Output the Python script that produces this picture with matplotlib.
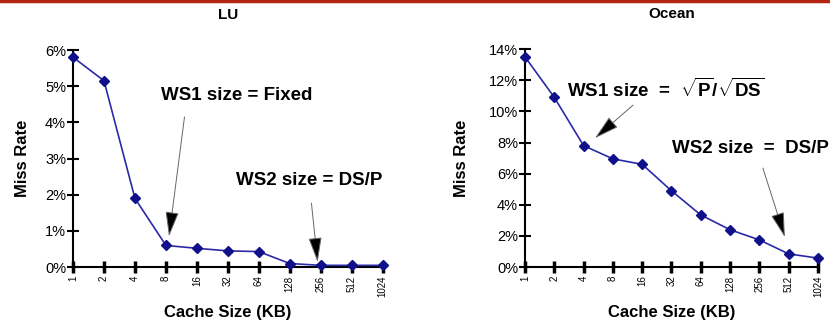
import matplotlib
matplotlib.use('Agg')
import matplotlib.pyplot as plt
from matplotlib.lines import Line2D

# cache sizes in KB
cache_kb = ['1', '2', '4', '8', '16', '32', '64', '128', '256', '512', '1024']

# miss rate (%)
lu_miss = [5.8, 5.15, 1.9, 0.6, 0.52, 0.45, 0.43, 0.1, 0.05, 0.05, 0.05]
ocean_miss = [13.5, 10.9, 7.8, 6.95, 6.6, 4.9, 3.35, 2.4, 1.75, 0.85, 0.58]

lu_ticks = [0, 1, 2, 3, 4, 5, 6]
ocean_ticks = [0, 2, 4, 6, 8, 10, 12, 14]

plt.rcParams['font.family'] = ['Liberation Sans', 'DejaVu Sans']
plt.rcParams['font.weight'] = 'bold'
plt.rcParams['mathtext.fontset'] = 'custom'
plt.rcParams['mathtext.rm'] = 'Liberation Sans:bold'
plt.rcParams['mathtext.bf'] = 'Liberation Sans:bold'

LINE = '#2a2aa8'
MARK = '#10108a'

fig = plt.figure(figsize=(8.3, 3.29), dpi=100)
# red rule across the top
fig.add_artist(Line2D([0, 1], [0.996, 0.996], color='#b52412', lw=2.5,
                      transform=fig.transFigure))

ax1 = fig.add_axes([0.088, 0.188, 0.373, 0.66])
ax2 = fig.add_axes([0.6325, 0.188, 0.353, 0.663])


def style(ax, vals, yt, title, ylpad):
    x = list(range(len(cache_kb)))
    ax.plot(x, vals, color=LINE, lw=1.2, marker='D', ms=5.5,
            mfc=MARK, mec=MARK, clip_on=False, zorder=3)
    ax.set_xlim(0, len(cache_kb) - 1)
    ax.set_ylim(0, yt[-1])
    ax.set_xticks(x)
    ax.set_xticklabels(cache_kb, rotation=90, fontsize=7, fontweight='normal')
    ax.set_yticks(yt)
    ax.set_yticklabels(['%d%%' % v for v in yt], fontsize=10.5, fontweight='normal')
    for s in ['top', 'right']:
        ax.spines[s].set_visible(False)
    for s in ['left', 'bottom']:
        ax.spines[s].set_linewidth(1.5)
    ax.tick_params(axis='x', direction='inout', length=8, width=2.5, pad=2)
    ax.tick_params(axis='y', direction='inout', length=8, width=1.5, pad=1)
    ax.set_title(title, fontsize=11, fontweight='bold', pad=22)
    ax.set_xlabel('Cache Size (KB)', fontsize=12, fontweight='bold', labelpad=6)
    ax.set_ylabel('Miss Rate', fontsize=12, fontweight='bold', labelpad=ylpad)


style(ax1, lu_miss, lu_ticks, 'LU', 11)
style(ax2, ocean_miss, ocean_ticks, 'Ocean', 14)

arrow = dict(arrowstyle='-|>,head_length=1.3,head_width=0.35', mutation_scale=12,
             fc='black', ec='#666666', lw=0.7, shrinkA=0, shrinkB=0)

# LU annotations
ax1.text(5.28, 4.75, 'WS1 size = Fixed', ha='center', va='center', fontsize=13.5)
ax1.annotate('', xy=(3.1, 0.85), xytext=(3.6, 4.15), arrowprops=arrow)
ax1.text(7.64, 2.4, 'WS2 size = DS/P', ha='center', va='center', fontsize=13.5)
ax1.annotate('', xy=(7.9, 0.14), xytext=(7.7, 1.77), arrowprops=arrow)

# Ocean annotations
ax2.text(4.8, 11.43, r'WS1 size  =  $\sqrt{\mathrm{P}}/\sqrt{\mathrm{DS}}$',
         ha='center', va='center', fontsize=13.5)
ax2.annotate('', xy=(2.39, 8.28), xytext=(3.69, 10.4), arrowprops=arrow)
ax2.text(7.68, 7.64, 'WS2 size  =  DS/P', ha='center', va='center',
         fontsize=13.5, clip_on=False)
ax2.annotate('', xy=(8.87, 1.93), xytext=(8.12, 6.36), arrowprops=arrow)

fig.savefig('out.png', dpi=100)
